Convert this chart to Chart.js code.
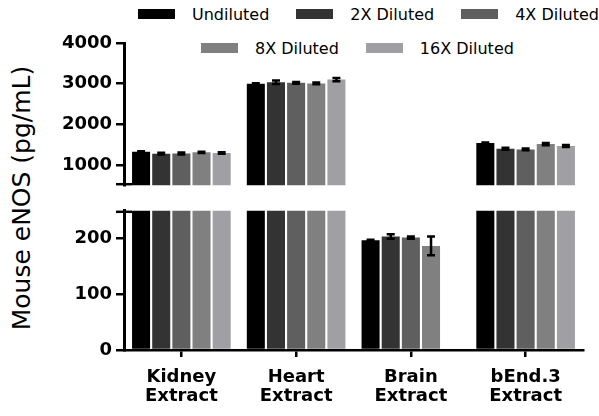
<!DOCTYPE html>
<html>
<head>
<meta charset="UTF-8">
<script src="https://cdn.jsdelivr.net/npm/chart.js@4.4.0/dist/chart.umd.min.js"></script>
<style>
body { margin:0; width:599px; height:416px; background:#fff; overflow:hidden; font-family:"DejaVu Sans", sans-serif; color:#000; }
#topChart { position:absolute; left:0; top:0; }
#bottomChart { position:absolute; left:0; top:196px; }
.ytitle { position:absolute; left:21px; top:198px; transform:translate(-50%,-50%) rotate(-90deg); font-size:25px; white-space:nowrap; }
.legendRow { position:absolute; height:20px; display:flex; align-items:center; font-size:16px; white-space:nowrap; }
.legendRow .item { display:flex; align-items:center; margin-right:27px; }
.legendRow .box { display:inline-block; width:37px; height:10px; margin-right:17px; }
</style>
</head>
<body>
<div class="ytitle">Mouse eNOS (pg/mL)</div>
<div class="legendRow" id="legend1" style="left:138px;top:4px;"></div>
<div class="legendRow" id="legend2" style="left:201px;top:38px;"></div>
<canvas id="topChart" width="599" height="200"></canvas>
<canvas id="bottomChart" width="599" height="220"></canvas>
<script>
// data
var categories = [['Kidney', 'Extract'], ['Heart', 'Extract'], ['Brain', 'Extract'], ['bEnd.3', 'Extract']];
var seriesNames = ['Undiluted', '2X Diluted', '4X Diluted', '8X Diluted', '16X Diluted'];
var seriesColors = ['#000000', '#333333', '#5f5f5f', '#808080', '#a0a0a4'];

var undiluted = [1325, 3000, 197, 1540];
var diluted2x = [1276, 3035, 204, 1399];
var diluted4x = [1280, 3020, 202, 1381];
var diluted8x = [1308, 3005, 187, 1513];
var diluted16x = [1293, 3100, null, 1464];

var errUndiluted = [8, 8, 1, 10];
var err2x = [22, 45, 4, 25];
var err4x = [22, 20, 2, 22];
var err8x = [18, 22, 17, 28];
var err16x = [20, 40, null, 25];

// axis break: top segment 500-4000, bottom segment 0-250
var topTicks = [500, 1000, 2000, 3000, 4000];
var bottomTicks = [0, 100, 200, 250];

var seriesValues = [undiluted, diluted2x, diluted4x, diluted8x, diluted16x];
var seriesErrors = [errUndiluted, err2x, err4x, err8x, err16x];

// legend
seriesNames.forEach(function (name, i) {
    var row = document.getElementById(i < 3 ? 'legend1' : 'legend2');
    var item = document.createElement('div');
    item.className = 'item';
    item.innerHTML = "<span class='box' style='background:" + seriesColors[i] + "'></span><span>" + name + "</span>";
    row.appendChild(item);
});

var errorBars = {
    id: 'errorBars',
    afterDatasetsDraw: function (chart) {
        var ctx = chart.ctx;
        var a = chart.chartArea;
        var y = chart.scales.y;
        ctx.save();
        ctx.beginPath();
        ctx.rect(a.left, a.top - 2, a.right - a.left, a.bottom - a.top + 2);
        ctx.clip();
        ctx.strokeStyle = '#000';
        ctx.lineWidth = 2.5;
        chart.data.datasets.forEach(function (ds, di) {
            var meta = chart.getDatasetMeta(di);
            meta.data.forEach(function (bar, i) {
                var v = ds.data[i], e = ds.errors[i];
                if (v == null || e == null) return;
                var yHi = y.getPixelForValue(v + e), yLo = y.getPixelForValue(v - e);
                ctx.beginPath();
                ctx.moveTo(bar.x, yHi); ctx.lineTo(bar.x, yLo);
                ctx.moveTo(bar.x - 4, yHi); ctx.lineTo(bar.x + 4, yHi);
                ctx.moveTo(bar.x - 4, yLo); ctx.lineTo(bar.x + 4, yLo);
                ctx.stroke();
            });
        });
        ctx.restore();
    }
};

var breakMark = {
    id: 'breakMark',
    afterDraw: function (chart, args, opts) {
        var a = chart.chartArea;
        var yy = opts.edge == 'bottom' ? a.bottom - 1 : a.top + 1;
        var ctx = chart.ctx;
        ctx.save();
        ctx.strokeStyle = '#000';
        ctx.lineWidth = 2.5;
        ctx.beginPath();
        ctx.moveTo(a.left - 8, yy);
        ctx.lineTo(a.left + 8, yy);
        ctx.stroke();
        ctx.restore();
    }
};

var makeDatasets = function () {
    return seriesNames.map(function (name, i) {
        return {
            label: name,
            data: seriesValues[i],
            errors: seriesErrors[i],
            backgroundColor: seriesColors[i],
            borderWidth: 0,
            categoryPercentage: 0.878,
            barPercentage: 0.895,
            clip: 0
        };
    });
};

var makeOptions = function (ticks, hidden, showX, edge, pad) {
    return {
        responsive: false,
        animation: false,
        layout: { padding: pad },
        plugins: { legend: { display: false }, tooltip: { enabled: false }, breakMark: { edge: edge } },
        scales: {
            x: {
                display: showX,
                grid: { drawOnChartArea: false, offset: false, color: '#000', lineWidth: 2.5, tickLength: 7 },
                border: { color: '#000', width: 2.5 },
                ticks: { color: '#000', font: { family: 'DejaVu Sans', size: 18, weight: 'bold', lineHeight: 1.05 }, padding: 11, maxRotation: 0 },
                afterFit: function (s) { if (showX) s.height = 66; }
            },
            y: {
                min: ticks[0], max: ticks[ticks.length - 1],
                afterBuildTicks: function (s) {
                    s.ticks = ticks.map(function (v) { return { value: v }; });
                },
                grid: {
                    drawOnChartArea: false, lineWidth: 2.5, tickLength: 8,
                    color: function (c) { return (c.tick && c.tick.value == hidden) ? 'rgba(0,0,0,0)' : '#000'; }
                },
                border: { color: '#000', width: 3 },
                ticks: {
                    color: '#000', padding: 4,
                    font: { family: 'DejaVu Sans', size: 18, weight: 'bold' },
                    callback: function (v) { return v == hidden ? '' : v; }
                },
                afterFit: function (s) { s.width = 124; }
            }
        }
    };
};

new Chart(document.getElementById('topChart').getContext('2d'), {
    type: 'bar',
    data: { labels: categories, datasets: makeDatasets() },
    options: makeOptions(topTicks, topTicks[0], false, 'bottom',
        { top: 43, bottom: 14, left: 0, right: 16 }),
    plugins: [errorBars, breakMark]
});

new Chart(document.getElementById('bottomChart').getContext('2d'), {
    type: 'bar',
    data: { labels: categories, datasets: makeDatasets() },
    options: makeOptions(bottomTicks, bottomTicks[bottomTicks.length - 1], true, 'top',
        { top: 12, bottom: 0, left: 0, right: 16 }),
    plugins: [errorBars, breakMark]
});
</script>
</body>
</html>
